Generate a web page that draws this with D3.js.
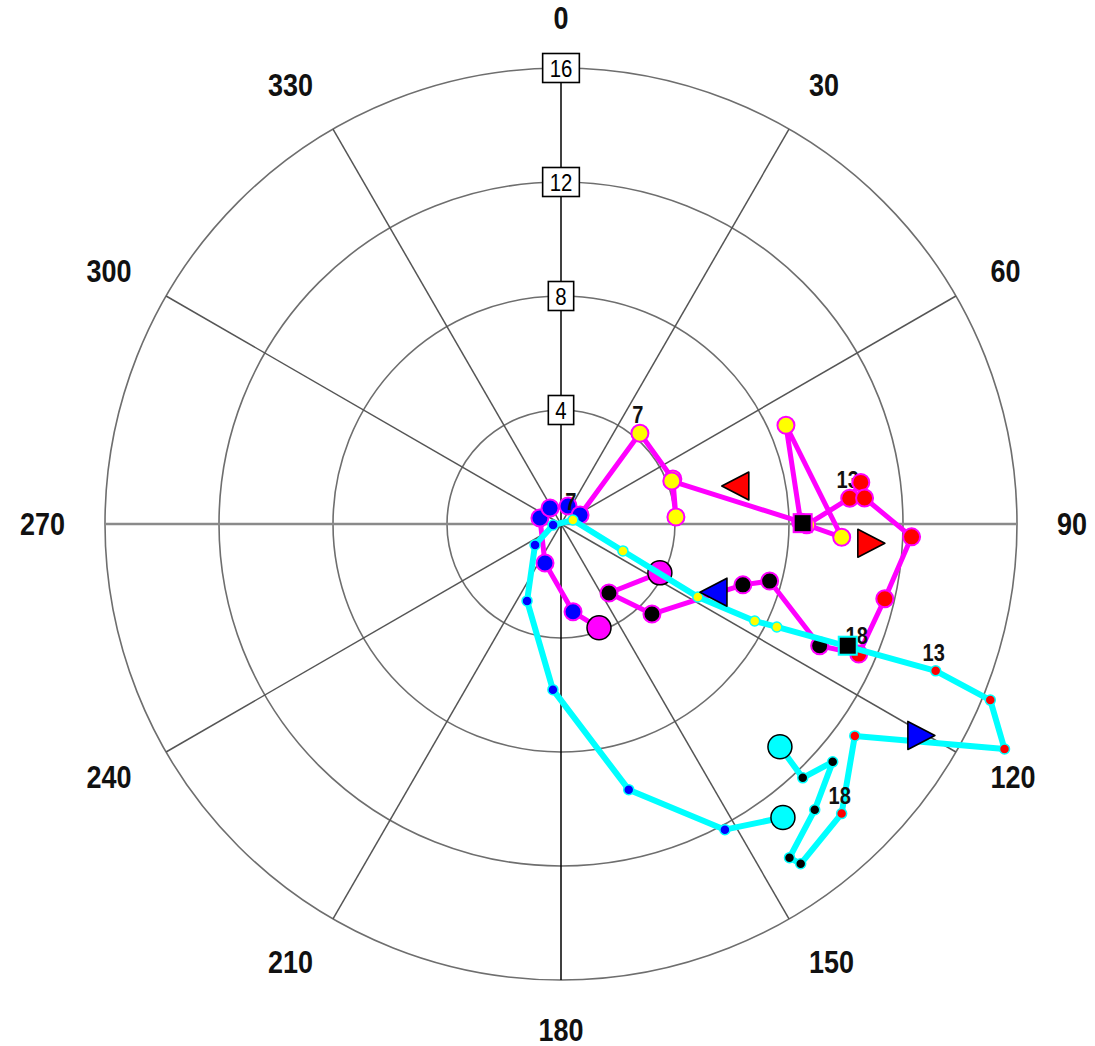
<!DOCTYPE html>
<html><head><meta charset="utf-8">
<script src="https://cdn.jsdelivr.net/npm/d3@7/dist/d3.min.js"></script>
<style>html,body{margin:0;padding:0;background:#fff;} svg{display:block;}</style>
</head><body>
<svg id="chart" width="1095" height="1046"></svg>
<script>
// ---------------- data ----------------
const ringValues = [4, 8, 12, 16];
const ringLabels = ["4", "8", "12", "16"];
const angleTicks = [0, 30, 60, 90, 120, 150, 180, 210, 240, 270, 300, 330];
const angleLabels = ["0", "30", "60", "90", "120", "150", "180", "210", "240", "270", "300", "330"];

// magenta trace (direction deg, speed)
const magentaDir = [159.9, 172.2, 202.3, 286.0, 325.5, 21.3, 64.7, 41.0, 68.1, 86.5, 68.8, 89.5, 66.3, 92.7, 90.2, 84.9, 82.1, 85.1, 92.1, 103.0, 113.6, 115.2, 105.3, 108.5, 134.7, 145.2, 116.3];
const magentaSpd = [3.88, 3.11, 1.48, 0.77, 0.68, 0.68, 0.74, 4.22, 4.23, 4.04, 4.17, 8.41, 8.62, 9.86, 8.62, 10.17, 10.62, 10.69, 12.31, 11.66, 11.40, 10.03, 7.59, 6.73, 4.49, 2.95, 3.87];
const magentaLevel = ["start", "low", "low", "low", "low", "low", "low", "mid", "mid", "mid", "mid", "mid", "mid", "mid", "mid", "high", "high", "high", "high", "high", "high", "top", "top", "top", "top", "top", "end"];
const magentaLabelIdx = [7, 15, 20];
const magentaLabelText = ["7", "13", "18"];
const magentaSquare = [89.8, 8.48];
const magentaTriLeft = [77.7, 6.26];
const magentaTriRight = [93.55, 10.91];

// cyan trace
const cyanDir = [142.9, 151.8, 165.7, 182.8, 203.8, 231.1, 262.9, 71.6, 113.5, 118.05, 116.6, 115.5, 111.4, 112.3, 116.9, 125.8, 135.9, 144.8, 145.6, 138.4, 131.2, 136.4, 135.5];
const cyanSpd = [12.91, 12.17, 9.62, 5.82, 2.95, 1.17, 0.28, 0.44, 2.37, 5.44, 7.60, 8.39, 14.12, 16.28, 17.45, 12.71, 14.15, 14.59, 14.19, 13.41, 12.67, 12.30, 10.96];
const cyanLevel = ["start", "low", "low", "low", "low", "low", "low", "mid", "mid", "mid", "mid", "mid", "high", "high", "high", "high", "high", "top", "top", "top", "top", "top", "end"];
const cyanLabelIdx = [7, 12, 16];
const cyanLabelText = ["7", "13", "18"];
const cyanSquare = [113.0, 10.93];
const cyanTriLeft = [114.1, 5.86];
const cyanTriRight = [120.4, 14.66];

// ---------------- drawing ----------------
const CX = 561, CY = 524;
const svg = d3.select("#chart");
const g = svg.append("g").attr("transform", `translate(${CX},${CY})`);
const r = d3.scaleLinear().domain([0, 16]).range([0, 456]);
const rad = d => d * Math.PI / 180;
const levelColor = d3.scaleOrdinal()
  .domain(["low", "mid", "high", "top"])
  .range(["#0000ff", "#ffff00", "#ff0000", "#000000"]);
const FONT = "'Liberation Sans',Arial,sans-serif";

// grid rings
g.selectAll("circle.ring").data(ringValues).enter().append("circle")
  .attr("class", "ring").attr("r", d => r(d))
  .attr("fill", "none").attr("stroke", "#6e6e6e").attr("stroke-width", 1.6);

// radial lines
g.selectAll("line.spoke").data(angleTicks).enter().append("line")
  .attr("class", "spoke")
  .attr("x1", 0).attr("y1", 0)
  .attr("x2", d => d3.pointRadial(rad(d), r(16))[0])
  .attr("y2", d => d3.pointRadial(rad(d), r(16))[1])
  .attr("stroke", d => (d === 0 || d === 180) ? "#000" : (d === 90 || d === 270 ? "#8a8a8a" : "#555"))
  .attr("stroke-width", d => (d === 90 || d === 270) ? 2.6 : 1.5);

// angle labels (condensed bold)
const LAB_RX = r(16) + 40, LAB_RY = r(16) + 50;
g.selectAll("text.alab").data(angleTicks).enter().append("text")
  .attr("class", "alab")
  .attr("transform", d => {
    const a = rad(d);
    return `translate(${Math.sin(a) * LAB_RX},${-Math.cos(a) * LAB_RY}) scale(0.87,1)`;
  })
  .attr("text-anchor", d => { const s = Math.sin(rad(d)); return s > 0.01 ? "start" : (s < -0.01 ? "end" : "middle"); })
  .attr("dominant-baseline", "central")
  .attr("font-family", FONT).attr("font-weight", "bold").attr("font-size", 31)
  .attr("fill", "#111")
  .text((d, i) => angleLabels[i]);

// ring value boxes on the 0 axis
const boxes = g.selectAll("g.rbox").data(ringValues).enter().append("g")
  .attr("class", "rbox")
  .attr("transform", d => `translate(0,${-r(d)})`);
boxes.append("rect");
boxes.append("text")
  .attr("text-anchor", "middle").attr("dominant-baseline", "central")
  .attr("transform", "translate(0,1) scale(0.85,1)")
  .attr("font-family", FONT).attr("font-size", 24).attr("fill", "#000")
  .text((d, i) => ringLabels[i]);
boxes.each(function () {
  const t = d3.select(this).select("text").node().getBBox();
  const w = t.width * 0.85 + 14;
  d3.select(this).select("rect")
    .attr("x", -w / 2).attr("y", -14.5)
    .attr("width", w).attr("height", 29)
    .attr("fill", "#fff").attr("stroke", "#000").attr("stroke-width", 1.6);
});

function makeTrace(dirs, spds) {
  return dirs.map((d, i) => ({ dir: d, spd: spds[i], i }));
}
function pos(d) { return d3.pointRadial(rad(d.dir), r(d.spd)); }

function triPath(dir, w, h) {
  return dir < 0
    ? `M${-w / 2},0L${w / 2},${-h / 2}L${w / 2},${h / 2}Z`
    : `M${w / 2},0L${-w / 2},${-h / 2}L${-w / 2},${h / 2}Z`;
}

function drawSeries(opt) {
  const pts = makeTrace(opt.dir, opt.spd);
  const lay = g.append("g");
  const line = d3.lineRadial().angle(d => rad(d.dir)).radius(d => r(d.spd));
  lay.append("path").attr("d", line(pts))
    .attr("fill", "none").attr("stroke", opt.color).attr("stroke-width", opt.lineWidth)
    .attr("stroke-linejoin", "round").attr("stroke-linecap", "round");
  // labels (above the line, below the points)
  lay.selectAll("text.plab").data(opt.labelIdx).enter().append("text")
    .attr("class", "plab")
    .attr("transform", d => { const p = pos(pts[d]); return `translate(${p[0] - 2},${p[1] - 18}) scale(0.87,1)`; })
    .attr("text-anchor", "middle").attr("dominant-baseline", "central")
    .attr("font-family", FONT).attr("font-weight", "bold").attr("font-size", 23)
    .attr("fill", "#111")
    .text((d, i) => opt.labelText[i]);
  // points
  const inner = pts.filter(d => opt.level[d.i] !== "start" && opt.level[d.i] !== "end");
  lay.selectAll("circle.pt").data(inner).enter().append("circle")
    .attr("class", "pt")
    .attr("cx", d => pos(d)[0]).attr("cy", d => pos(d)[1])
    .attr("r", opt.ptR)
    .attr("fill", d => levelColor(opt.level[d.i]))
    .attr("stroke", opt.color).attr("stroke-width", opt.ptStroke);
  // square marker
  const sq = pos({ dir: opt.square[0], spd: opt.square[1] });
  lay.append("rect").attr("x", sq[0] - 9).attr("y", sq[1] - 9)
    .attr("width", 18).attr("height", 18)
    .attr("fill", "#000").attr("stroke", opt.color).attr("stroke-width", 2);
  // triangles
  const tl = pos({ dir: opt.triLeft[0], spd: opt.triLeft[1] });
  const tr = pos({ dir: opt.triRight[0], spd: opt.triRight[1] });
  lay.append("path").attr("d", triPath(-1, 27, 28)).attr("transform", `translate(${tl[0]},${tl[1]})`)
    .attr("fill", opt.triColor).attr("stroke", "#000").attr("stroke-width", 1.6).attr("stroke-linejoin", "round");
  lay.append("path").attr("d", triPath(1, 27, 28)).attr("transform", `translate(${tr[0]},${tr[1]})`)
    .attr("fill", opt.triColor).attr("stroke", "#000").attr("stroke-width", 1.6).attr("stroke-linejoin", "round");
  // start / end big circles
  const ends = pts.filter(d => opt.level[d.i] === "start" || opt.level[d.i] === "end");
  lay.selectAll("circle.big").data(ends).enter().append("circle")
    .attr("class", "big")
    .attr("cx", d => pos(d)[0]).attr("cy", d => pos(d)[1])
    .attr("r", 12).attr("fill", opt.color)
    .attr("stroke", "#000").attr("stroke-width", 1.5);
}

drawSeries({
  dir: magentaDir, spd: magentaSpd, level: magentaLevel,
  labelIdx: magentaLabelIdx, labelText: magentaLabelText,
  color: "#ff00ff", lineWidth: 5, ptR: 8.5, ptStroke: 2,
  square: magentaSquare, triLeft: magentaTriLeft, triRight: magentaTriRight, triColor: "#ff0000"
});
drawSeries({
  dir: cyanDir, spd: cyanSpd, level: cyanLevel,
  labelIdx: cyanLabelIdx, labelText: cyanLabelText,
  color: "#00ffff", lineWidth: 6, ptR: 5, ptStroke: 1.5,
  square: cyanSquare, triLeft: cyanTriLeft, triRight: cyanTriRight, triColor: "#0000ff"
});
</script>
</body></html>
